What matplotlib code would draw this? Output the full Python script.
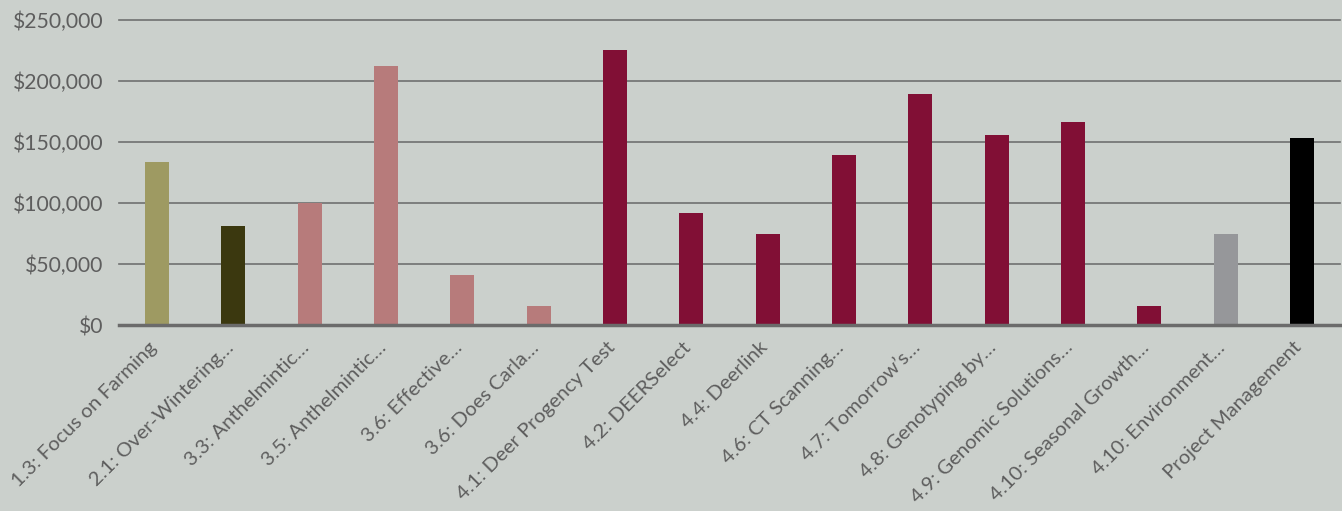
import matplotlib
matplotlib.use("Agg")
import matplotlib.pyplot as plt
from matplotlib.ticker import FuncFormatter
from matplotlib.transforms import ScaledTranslation

categories = [
    "1.3: Focus on Farming", "2.1: Over-Wintering…", "3.3: Anthelmintic…",
    "3.5: Anthelmintic…", "3.6: Effective…", "3.6: Does Carla…",
    "4.1: Deer Progency Test", "4.2: DEERSelect", "4.4: Deerlink",
    "4.6: CT Scanning…", "4.7: Tomorrow’s…", "4.8: Genotyping by…",
    "4.9: Genomic Solutions…", "4.10: Seasonal Growth…", "4.10: Environment…",
    "Project Management",
]
values = [134000, 81000, 100000, 212000, 41000, 15500, 225000, 92000,
          75000, 139000, 189500, 156000, 166000, 15500, 75000, 153500]
colors = ["#9E9A62", "#3B380F", "#B77B7B", "#B77B7B", "#B77B7B", "#B77B7B",
          "#810F35", "#810F35", "#810F35", "#810F35", "#810F35", "#810F35",
          "#810F35", "#810F35", "#96979A", "#000000"]
yticks = [0, 50000, 100000, 150000, 200000, 250000]

bg = "#CBD0CC"
txt = "#5E5E5E"
plt.rcParams['font.family'] = ['Lato', 'DejaVu Sans']

fig = plt.figure(figsize=(13.42, 5.11), dpi=100, facecolor=bg)
ax = fig.add_axes([119/1342, 1 - 325/511, 1221/1342, (325-20)/511])
ax.set_facecolor(bg)

x = list(range(len(categories)))
ax.bar(x, values, width=0.314, color=colors, zorder=3)

ax.set_xlim(-0.5, len(categories) - 0.5)
ax.set_ylim(0, 250000)
ax.set_yticks(yticks)
ax.yaxis.set_major_formatter(FuncFormatter(lambda v, p: f"${v:,.0f}"))
ax.grid(axis='y', color="#6F7070", linewidth=1.2, zorder=0)
for ln in ax.get_ygridlines():
    ln.set_clip_on(False)
for s in ["top", "right", "left"]:
    ax.spines[s].set_visible(False)
ax.spines["bottom"].set_color("#6B6B6B")
ax.spines["bottom"].set_linewidth(2.5)
ax.spines["bottom"].set_zorder(4)

ax.tick_params(axis='y', length=0, labelsize=15.2, labelcolor=txt, pad=11)
ax.tick_params(axis='x', length=0, labelsize=14.6, labelcolor=txt, pad=12)
ax.set_xticks(x)
ax.set_xticklabels(categories, rotation=45, ha='right', rotation_mode='anchor')
offset = ScaledTranslation(-9/100, 3/100, fig.dpi_scale_trans)
for lbl in ax.get_xticklabels():
    lbl.set_transform(lbl.get_transform() + offset)

fig.savefig("out.png", dpi=100, facecolor=bg)
